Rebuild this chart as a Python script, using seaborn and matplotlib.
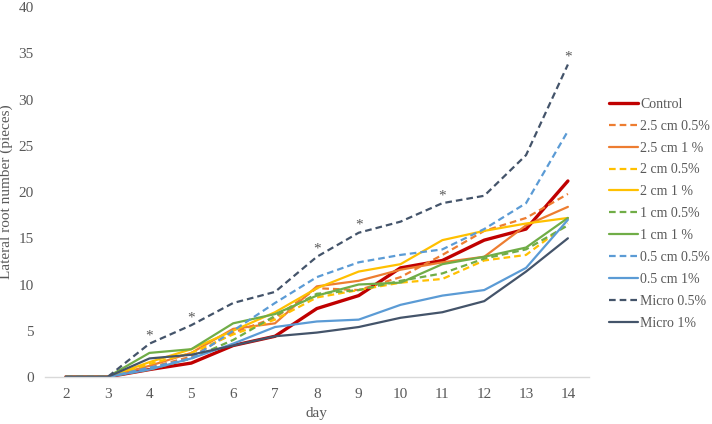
import matplotlib
matplotlib.use("Agg")
import matplotlib.pyplot as plt
import seaborn as sns
import pandas as pd

days = [2, 3, 4, 5, 6, 7, 8, 9, 10, 11, 12, 13, 14]

control      = [0, 0, 0.8, 1.5, 3.4, 4.4, 7.4, 8.8, 11.8, 12.6, 14.8, 16.0, 21.2]
cm25_05      = [0, 0, 1.0, 2.2, 4.8, 6.4, 9.6, 9.4, 10.8, 13.2, 15.8, 17.2, 19.8]
cm25_1       = [0, 0, 1.2, 2.6, 5.2, 5.8, 9.8, 10.4, 11.6, 12.4, 13.0, 16.4, 18.4]
cm2_05       = [0, 0, 1.4, 2.6, 4.6, 6.2, 8.6, 9.4, 10.2, 10.6, 12.6, 13.2, 16.6]
cm2_1        = [0, 0, 1.6, 3.0, 5.0, 7.0, 9.6, 11.4, 12.2, 14.8, 15.8, 16.6, 17.2]
cm1_05       = [0, 0, 0.8, 2.0, 4.0, 6.6, 9.0, 9.4, 10.4, 11.2, 12.8, 13.8, 16.4]
cm1_1        = [0, 0, 2.6, 3.0, 5.8, 6.8, 8.8, 10.0, 10.2, 12.2, 13.0, 14.0, 17.2]
cm05_05      = [0, 0, 1.0, 2.0, 5.0, 8.0, 10.8, 12.4, 13.2, 13.8, 16.0, 18.8, 26.6]
cm05_1       = [0, 0, 0.8, 2.0, 3.6, 5.4, 6.0, 6.2, 7.8, 8.8, 9.4, 11.8, 17.0]
micro_05     = [0, 0, 3.6, 5.6, 8.0, 9.2, 13.0, 15.6, 16.8, 18.8, 19.6, 24.0, 33.8]
micro_1      = [0, 0, 2.0, 2.4, 3.4, 4.4, 4.8, 5.4, 6.4, 7.0, 8.2, 11.4, 15.0]

series_names = ["Control", "2.5 cm 0.5%", "2.5 cm 1 %", "2 cm 0.5%", "2 cm 1 %",
                "1 cm 0.5%", "1 cm 1 %", "0.5 cm 0.5%", "0.5 cm 1%", "Micro 0.5%", "Micro 1%"]
series_values = [control, cm25_05, cm25_1, cm2_05, cm2_1, cm1_05, cm1_1,
                 cm05_05, cm05_1, micro_05, micro_1]
star_days = [4, 5, 8, 9, 11, 14]

colors = ["#C00000", "#ED7D31", "#ED7D31", "#FFC000", "#FFC000", "#70AD47", "#70AD47",
          "#5B9BD5", "#5B9BD5", "#44546A", "#44546A"]
dashed = [False, True, False, True, False, True, False, True, False, True, False]

sns.set_style("white")
plt.rcParams["font.family"] = ["Liberation Serif", "DejaVu Serif"]

fig = plt.figure(figsize=(7.12, 4.24), dpi=100)
ax = fig.add_axes([0.063, 0.111, 0.764, 0.872])

rows = []
for name, vals in zip(series_names, series_values):
    for d, v in zip(days, vals):
        rows.append({"day": d, "value": v, "series": name})
df = pd.DataFrame(rows)

for i, name in enumerate(series_names):
    sub = df[df["series"] == name]
    lw = 2.4 if name == "Control" else 1.6
    sns.lineplot(data=sub, x="day", y="value", ax=ax, color=colors[i], lw=lw,
                 label=name, dashes=False,
                 linestyle=(0, (3, 1.8)) if dashed[i] else "-")

for d in star_days:
    v = micro_05[days.index(d)]
    ax.text(d, v + 0.1, "*", ha="center", va="bottom", fontsize=11, color="#595959")

ax.set_xlim(1.5, 14.5)
ax.set_ylim(0, 40)
ax.set_xticks(days)
ax.set_yticks(range(0, 41, 5))
ax.tick_params(axis="both", length=0, labelsize=11, colors="#595959", pad=8)
ax.set_xlabel("day", fontsize=11, color="#595959", labelpad=4)
ax.set_ylabel("Lateral root number (pieces)", fontsize=11, color="#595959", labelpad=4)
for s in ["top", "right", "left"]:
    ax.spines[s].set_visible(False)
ax.spines["bottom"].set_color("#D9D9D9")
ax.spines["bottom"].set_linewidth(1)

ax.get_legend().remove()
handles, labels = ax.get_legend_handles_labels()
fig.legend(handles, labels, loc="center left", bbox_to_anchor=(0.842, 0.496),
           frameon=False, fontsize=10, labelcolor="#595959", handlelength=2.1,
           handletextpad=0.15, labelspacing=0.64, borderpad=0.2)

fig.savefig("out.png", dpi=100)
